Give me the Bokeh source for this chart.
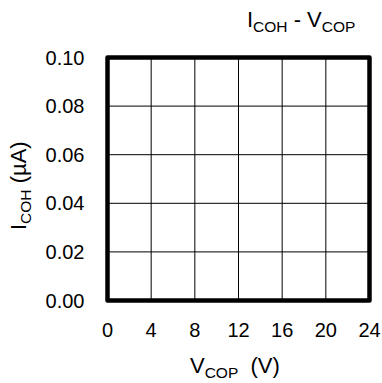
import math
from bokeh.plotting import figure
from bokeh.models import Range1d, FixedTicker, Label
from bokeh.embed import file_html
from bokeh.resources import INLINE

# ---- data ----
x_ticks = [0, 4, 8, 12, 16, 20, 24]
y_ticks = [0.00, 0.02, 0.04, 0.06, 0.08, 0.10]
x_lim = (0, 24)
y_lim = (0.0, 0.10)
title_runs = [("I", "main"), ("COH", "sub"), (" - ", "main"), ("V", "main"), ("COP", "sub")]
xlabel_runs = [("V", "main"), ("COP", "sub"), ("  (V)", "main")]
ylabel_runs = [("I", "main"), ("COH", "sub"), (" (\u00b5A)", "main")]

FONT = "Liberation Sans"
MAIN = 22.0
SUB = 15.5
SUB_SHIFT = 4.0
MID = 0.3465  # rendered text is centred on its anchor: baseline sits this many ems below

W, H = 382, 383
# pixel box of the plotting area inside the canvas
BL, BR, BT, BB = 107, 369, 57, 300

sx = (BR - BL) / (x_lim[1] - x_lim[0])
sy = (BB - BT) / (y_lim[1] - y_lim[0])
xr = Range1d(x_lim[0] - BL / sx, x_lim[1] + (W - BR) / sx)
yr = Range1d(y_lim[0] - (H - BB) / sy, y_lim[1] + BT / sy)

p = figure(width=W, height=H, output_backend="svg", toolbar_location=None,
           x_range=xr, y_range=yr,
           min_border_left=0, min_border_right=0, min_border_top=0, min_border_bottom=0)
p.background_fill_color = "white"
p.border_fill_color = "white"
p.outline_line_color = None
p.xgrid.visible = False
p.ygrid.visible = False

# grid lines at tick positions
p.segment(x0=x_ticks, y0=[y_lim[0]] * len(x_ticks), x1=x_ticks, y1=[y_lim[1]] * len(x_ticks),
          line_color="black", line_width=1)
p.segment(x0=[x_lim[0]] * len(y_ticks), y0=y_ticks, x1=[x_lim[1]] * len(y_ticks), y1=y_ticks,
          line_color="black", line_width=1)
# thick frame
p.quad(left=[x_lim[0]], right=[x_lim[1]], bottom=[y_lim[0]], top=[y_lim[1]],
       fill_color=None, line_color="black", line_width=4.5, line_join="round")

for ax in (p.xaxis[0], p.yaxis[0]):
    ax.axis_line_color = None
    ax.major_tick_line_color = None
    ax.minor_tick_line_color = None
    ax.major_tick_out = 0
    ax.major_tick_in = 0
    ax.major_label_text_font = FONT
    ax.major_label_text_font_size = "20px"
    ax.major_label_text_color = "black"
    ax.axis_label = None

p.xaxis.fixed_location = y_lim[0]
p.yaxis.fixed_location = x_lim[0]
p.xaxis.bounds = x_lim
p.yaxis.bounds = y_lim
p.xaxis.ticker = FixedTicker(ticks=x_ticks)
p.yaxis.ticker = FixedTicker(ticks=y_ticks)
p.xaxis.major_label_overrides = {t: str(t) for t in x_ticks}
p.yaxis.major_label_overrides = {t: f"{t:.2f}" for t in y_ticks}
p.xaxis.major_label_standoff = 22
p.yaxis.major_label_standoff = 23

# Arial-compatible advance widths (per em)
WID = {"I": 0.278, "C": 0.722, "O": 0.778, "H": 0.722, "V": 0.667, "P": 0.667,
       "-": 0.333, " ": 0.278, "(": 0.333, ")": 0.333, "\u00b5": 0.556, "A": 0.667}


def adv(text, size):
    return sum(WID.get(c, 0.55) for c in text) * size


def to_data(wx, wy):
    return x_lim[0] + (wx - BL) / sx, y_lim[1] - (wy - BT) / sy


def draw_runs(runs, px, py, rotated=False):
    """px, py: start of the text run line; py (or px when rotated) is the baseline."""
    pos = 0.0
    for text, kind in runs:
        size = MAIN if kind == "main" else SUB
        shift = 0.0 if kind == "main" else SUB_SHIFT
        stripped = text.lstrip(" ")
        lead = adv(text[: len(text) - len(stripped)], size)
        along = pos + lead
        if rotated:
            wx, wy = px + shift - MID * size, py - along
        else:
            wx, wy = px + along, py + shift - MID * size
        x, y = to_data(wx, wy)
        p.add_layout(Label(x=x, y=y, text=stripped, text_font=FONT,
                           text_font_size=f"{size}px", text_color="black",
                           text_align="left", text_baseline="alphabetic",
                           angle=(math.pi / 2 if rotated else 0.0)))
        pos += adv(text, size)


draw_runs(title_runs, 246.5, 27)
draw_runs(xlabel_runs, 189.5, 373)
draw_runs(ylabel_runs, 26, 229.5, rotated=True)

open("out.html", "w").write(file_html(p, INLINE))
